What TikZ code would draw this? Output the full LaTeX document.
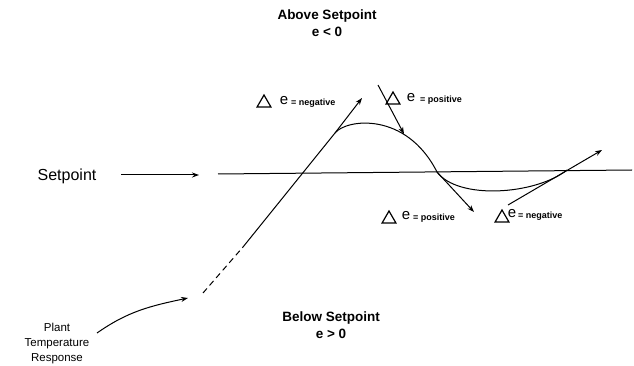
\documentclass[tikz,border=0pt]{standalone}
\usepackage{fontspec}
\setmainfont{Liberation Sans}
\usetikzlibrary{arrows.meta,shapes.geometric}
\begin{document}
\begin{tikzpicture}[x=1pt,y=-1pt,
  ln/.style={line width=1pt},
  arr/.style={ln,-{Stealth[length=7pt,width=5pt]}},
  big/.style={font=\bfseries\fontsize{13.5}{16.5}\selectfont,align=center,inner sep=0pt},
  lbl/.style={font=\fontsize{16}{18}\selectfont,inner sep=0pt},
  small/.style={font=\fontsize{11.5}{15}\selectfont,align=center,inner sep=0pt},
  tri/.style={draw,line width=1.2pt,regular polygon,regular polygon sides=3,minimum size=16pt,inner sep=0pt},
  ee/.style={font=\fontsize{15}{16}\selectfont,inner sep=0pt},
  eq/.style={font=\bfseries\fontsize{9}{10}\selectfont,inner sep=0pt,anchor=west}]
\useasboundingbox (0,0) rectangle (634,366);
\fill[white] (0,0) rectangle (634,366);

% titles
\node[big] (above) at (327,23) {Above Setpoint\\e < 0};
\node[big] (below) at (331,325) {Below Setpoint\\e > 0};

% setpoint
\node[lbl] (sp) at (67,176) {Setpoint};
\coordinate (spa) at (121,175);
\coordinate (spb) at (199,175);
\draw[arr] (spa) -- (spb);
\coordinate (sl1) at (218,174);
\coordinate (sl2) at (632,170);
\draw[ln] (sl1) -- (sl2);

% plant
\node[small] (plant) at (57,344) {Plant\\Temperature\\Response};
\coordinate (pa) at (97,333);
\coordinate (pb) at (188,298);
\draw[arr] (pa) to[out=35,in=192] (pb);

% response line
\coordinate (r0) at (203,293);
\coordinate (r1) at (243,247);
\coordinate (r2) at (335,133);
\coordinate (r3) at (362,98);
\draw[ln,dash pattern=on 6pt off 4pt] (r0) -- (r1);
\draw[ln] (r1) -- (r2);
\draw[arr] (r2) -- (r3);

% curve
\coordinate (c1) at (437,172);
\coordinate (c2) at (567,170);
\draw[ln] (r2) .. controls (346,119) and (406,111) .. (c1)
          .. controls (458,200) and (535,195) .. (c2);

% tangent arrows
\coordinate (t1a) at (378,85);
\coordinate (t1b) at (404,134);
\draw[arr] (t1a) -- (t1b);
\coordinate (t2b) at (474,212);
\draw[arr] (c1) -- (t2b);
\coordinate (t3a) at (508,205);
\coordinate (t3b) at (602,150);
\draw[arr] (t3a) -- (t3b);

% labels
\node[tri] (d1) at (264,103) {};
\node[ee] (e1) at (284,101) {e};
\node[eq] (q1) at (291,103) {= negative};

\node[tri] (d2) at (393,100) {};
\node[ee] (e2) at (411,98) {e};
\node[eq] (q2) at (420,100) {= positive};

\node[tri] (d3) at (389,219) {};
\node[ee] (e3) at (406,216) {e};
\node[eq] (q3) at (413,218) {= positive};

\node[tri] (d4) at (502,218) {};
\node[ee] (e4) at (512,214) {e};
\node[eq] (q4) at (518,216) {= negative};
\end{tikzpicture}
\end{document}
